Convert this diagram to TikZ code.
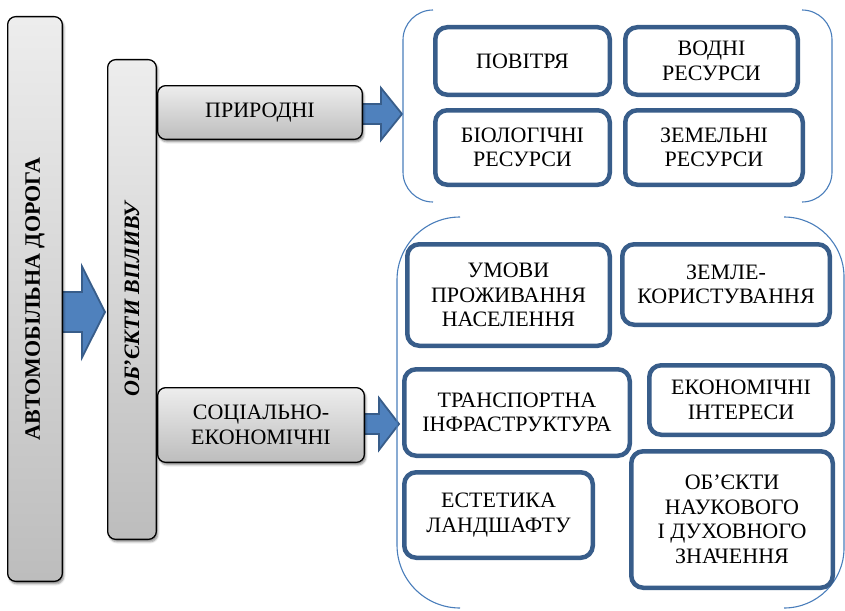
\documentclass[tikz,border=0pt]{standalone}
\usepackage{fontspec}
\setmainfont{Liberation Serif}
\usetikzlibrary{calc,shadows.blur}
\definecolor{boxblue}{HTML}{385D8A}
\definecolor{arrowblue}{HTML}{4F81BD}
\definecolor{bracketblue}{HTML}{4A7EBB}
\tikzset{
  txt/.style={font=\fontsize{22}{24.5}\selectfont, align=center, inner sep=0pt},
  graybox/.style={draw=black, line width=1.3pt, rounded corners=8pt,
    top color=black!7, bottom color=black!26, inner sep=0pt,
    blur shadow={shadow xshift=1.5pt, shadow yshift=-2.5pt,
      shadow blur radius=2pt, shadow opacity=45}},
  bluebox/.style={txt, draw=boxblue, line width=4.5pt, rounded corners=12pt, fill=white},
  blockarrow/.style={fill=arrowblue, draw=boxblue, line width=1.8pt, line join=miter},
  bracket/.style={draw=bracketblue, line width=1.1pt},
}
% block arrow: start, tip, shaft half-height, head half-height, head length
\newcommand\blockarr[5]{%
  \filldraw[blockarrow] ($(#1)+(0,#3)$) -- ($(#2)+(-#5,#3)$) -- ($(#2)+(-#5,#4)$)
    -- (#2) -- ($(#2)+(-#5,-#4)$) -- ($(#2)+(-#5,-#3)$) -- ($(#1)+(0,-#3)$) -- cycle;}
\begin{document}
\begin{tikzpicture}[x=1pt,y=-1pt]
\useasboundingbox (0,0) rectangle (845,610);

% arrow positions (drawn beneath the bars)
\coordinate (roadout) at (61,312);
\coordinate (objin)   at (105,312);
\coordinate (natout)  at (360,114);
\coordinate (natin)   at (402,114);
\coordinate (socout)  at (362,424);
\coordinate (socin)   at (399,424);
\blockarr{roadout}{objin}{20}{45.5}{23}
\blockarr{natout}{natin}{10}{26}{21}
\blockarr{socout}{socin}{10}{26}{20}

% the road and the objects of influence
\node[graybox, minimum width=54.7, minimum height=564.7] (road) at (35,299) {};
\node[txt, rotate=90, font=\fontsize{22}{24.5}\selectfont\bfseries] (roadtxt) at (road.center) {АВТОМОБІЛЬНА ДОРОГА};

\node[graybox, minimum width=48.7, minimum height=479.7] (obj) at (132,299.5) {};
\node[txt, rotate=90, font=\fontsize{22}{24.5}\selectfont\bfseries\itshape] (objtxt) at (obj.center) {ОБ’ЄКТИ ВПЛИВУ};

\node[graybox, txt, minimum width=204.7, minimum height=53.7] (nat) at (260,112.5) {ПРИРОДНІ};
\node[graybox, txt, minimum width=206.7, minimum height=74.7] (soc) at (261,425) {СОЦІАЛЬНО-\\ЕКОНОМІЧНІ};

% group brackets
\draw[bracket, rounded corners=30pt] (433,10) -- (403,10) -- (403,202) -- (433,202);
\draw[bracket, rounded corners=30pt] (802,10) -- (832,10) -- (832,202) -- (802,202);
\draw[bracket, rounded corners=63pt] (460,217) -- (397,217) -- (397,608) -- (460,608);
\draw[bracket, rounded corners=60pt] (784,217) -- (844,217) -- (844,608) -- (784,608);

% natural objects
\node[bluebox, minimum width=174.5, minimum height=67.5] (air)   at (522.5,61)   {ПОВІТРЯ};
\node[bluebox, minimum width=172.5, minimum height=67.5] (water) at (711.5,61)   {ВОДНІ\\РЕСУРСИ};
\node[bluebox, minimum width=174.5, minimum height=74.5] (bio)   at (522.5,147.5) {БІОЛОГІЧНІ\\РЕСУРСИ};
\node[bluebox, minimum width=177.5, minimum height=74.5] (land)  at (714,147.5)  {ЗЕМЕЛЬНІ\\РЕСУРСИ};

% socio-economic objects
\node[bluebox, minimum width=202.5, minimum height=101.5] (living) at (508.5,295) {УМОВИ\\ПРОЖИВАННЯ\\НАСЕЛЕННЯ};
\node[bluebox, minimum width=207.5, minimum height=80.5]  (landuse) at (726,284.5) {ЗЕМЛЕ-\\КОРИСТУВАННЯ};
\node[bluebox, minimum width=225.5, minimum height=86.5]  (transp) at (517,412.5) {ТРАНСПОРТНА\\ІНФРАСТРУКТУРА};
\node[bluebox, minimum width=183.5, minimum height=69.5]  (econ)   at (741,400)   {ЕКОНОМІЧНІ\\ІНТЕРЕСИ};
\node[bluebox, minimum width=188.5, minimum height=85.5]  (aesth)  at (498.5,515) {ЕСТЕТИКА\\ЛАНДШАФТУ};
\node[bluebox, minimum width=201.5, minimum height=136.5] (heritage) at (732,519.5) {ОБ’ЄКТИ\\НАУКОВОГО\\І ДУХОВНОГО\\ЗНАЧЕННЯ};
\end{tikzpicture}
\end{document}
